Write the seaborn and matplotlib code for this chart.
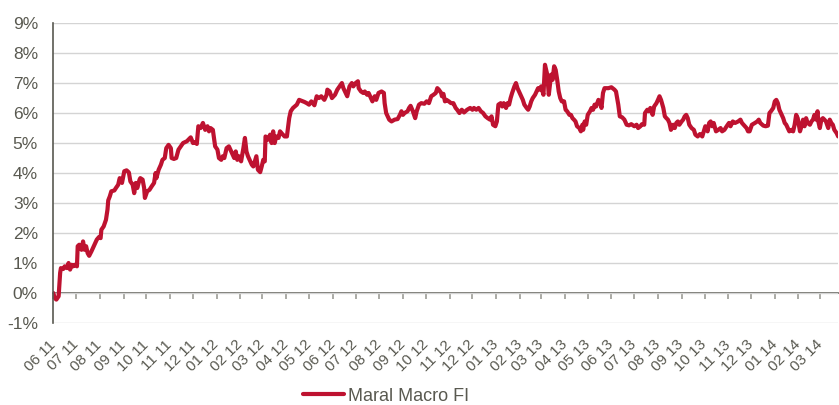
import matplotlib
matplotlib.use("Agg")
import matplotlib.pyplot as plt
import matplotlib.dates as mdates
import matplotlib.ticker as mticker
import seaborn as sns
import pandas as pd

# days since inception (2011-06-01) and cumulative return in %
start = "2011-06-01"
days = [0, 2, 4, 7, 9, 10, 13, 15, 18, 20, 22, 24, 26, 28, 31, 32, 34, 37, 39, 41,
        43, 45, 47, 50, 53, 57, 60, 62, 63, 66, 69, 71, 72, 74, 76, 80, 82, 85, 87, 90,
        93, 96, 99, 101, 104, 106, 108, 110, 113, 114, 117, 119, 120, 123, 126, 129, 132, 134, 135, 138,
        141, 143, 146, 148, 151, 154, 155, 158, 161, 164, 167, 170, 175,
        177, 180, 183, 186, 188, 190, 193, 196, 199, 202, 204, 206, 209, 212, 215, 217, 220, 222, 224,
        227, 230, 233, 235, 237, 239, 241, 243, 246, 249, 251, 253, 255, 258, 260, 262, 264, 266,
        268, 271, 273, 275, 277, 278, 281, 284, 286, 288, 290, 292, 295, 297, 300, 303, 306, 309,
        311, 314, 319, 322, 325, 329, 332, 335, 338, 342, 345, 348, 351, 355, 358,
        359, 362, 365, 369, 372, 375, 378, 380, 383, 385, 388, 391, 393, 396, 399, 400, 403, 406,
        408, 411, 413, 416, 418, 421, 423, 426, 430, 433, 434, 436, 440, 443, 447, 451, 454, 456,
        458, 460, 464, 466, 468, 471, 474, 476, 479, 482, 486, 489, 492, 495, 498, 501, 503, 505,
        508, 509, 511, 513, 515, 518, 521, 524, 527, 529, 532, 535, 538,
        542, 546, 549, 551, 554, 557, 560, 563, 566, 569, 572, 574, 576, 579, 581, 583, 586, 588,
        590, 593, 595, 597, 599, 601, 604, 606, 608, 610, 612, 615, 617, 620, 622, 624, 626, 628,
        631, 633, 635, 637, 639, 642, 644, 645, 647, 649, 652, 654, 656, 658, 660, 662, 664, 666,
        669, 671, 673, 676, 678, 680, 682, 684, 686, 689, 691, 693, 694, 696, 698, 700, 703, 705,
        707, 709, 711, 714, 716, 718, 720, 722,
        727, 731, 735, 737, 740, 742, 745, 748, 751, 754, 757, 761, 764, 766, 769, 771, 774, 775,
        778, 780, 782, 785, 787, 790, 792, 794, 796, 799, 801, 803, 805, 807, 809, 812, 814, 816,
        818, 820, 823, 825, 827, 829, 831, 833, 836, 839, 841, 844, 847, 850, 852, 854, 857, 859,
        861, 863, 865, 868, 871, 874, 876, 879, 882, 885, 887, 890, 893, 897, 900, 902, 906,
        908, 910, 912, 915, 919, 922, 924, 926, 930, 933, 936, 938, 940, 943, 945, 947, 949, 951,
        954, 956, 958, 960, 962, 964, 967, 969, 971, 973, 975, 978, 980, 982, 984, 986, 988, 991,
        993, 995, 997, 999, 1001, 1002, 1004, 1006, 1008, 1010, 1012, 1015, 1017, 1019, 1021, 1023,
        1026, 1028]
values = [0.00, -0.17, -0.22, -0.11, 0.67, 0.83, 0.80, 0.89, 0.83, 1.00, 0.78, 0.94, 0.89, 0.94, 0.89, 1.56, 1.61, 1.44, 1.72, 1.44,
          1.56, 1.33, 1.24, 1.39, 1.56, 1.78, 1.87, 1.83, 2.11, 2.22, 2.44, 2.78, 3.09, 3.22, 3.39, 3.42, 3.50, 3.61, 3.83, 3.67,
          4.06, 4.09, 4.02, 3.72, 3.61, 3.33, 3.67, 3.50, 3.78, 3.83, 3.78, 3.50, 3.17, 3.39, 3.44, 3.56, 3.67, 4.00, 3.83, 4.11,
          4.28, 4.44, 4.50, 4.83, 4.94, 4.83, 4.50, 4.47, 4.50, 4.78, 4.89, 5.00, 5.06,
          5.11, 5.19, 5.00, 5.03, 4.97, 5.56, 5.50, 5.67, 5.44, 5.56, 5.39, 5.50, 5.44, 4.89, 4.78, 4.50, 4.44, 4.56, 4.50,
          4.83, 4.89, 4.72, 4.61, 4.50, 4.72, 4.44, 4.56, 4.39, 4.83, 5.17, 4.72, 4.56, 4.39, 4.28, 4.22, 4.39, 4.56,
          4.11, 4.03, 4.22, 4.44, 4.39, 5.22, 5.11, 5.28, 5.00, 5.39, 5.00, 5.22, 5.17, 5.39, 5.30, 5.22, 5.22, 5.83,
          6.06, 6.17, 6.28, 6.44, 6.41, 6.37, 6.33, 6.28, 6.39, 6.26, 6.56, 6.50, 6.56, 6.44, 6.61,
          6.78, 6.72, 6.50, 6.61, 6.78, 6.89, 7.00, 6.83, 6.67, 6.56, 6.89, 7.00, 6.89, 7.00, 7.06, 6.83, 6.72, 6.67,
          6.72, 6.61, 6.67, 6.50, 6.39, 6.56, 6.44, 6.67, 6.72, 6.67, 6.33, 6.00, 5.78, 5.72, 5.78, 5.80, 5.94, 6.06,
          5.94, 6.00, 6.06, 6.17, 6.24, 6.06, 5.83, 6.06, 6.28, 6.33, 6.31, 6.39, 6.33, 6.56, 6.61, 6.67, 6.83, 6.78,
          6.67, 6.56, 6.64, 6.39, 6.44, 6.39, 6.33, 6.33, 6.17, 6.11, 6.00, 6.11, 6.02,
          6.11, 6.17, 6.11, 6.17, 6.11, 6.17, 6.06, 6.00, 5.89, 5.83, 5.78, 5.89, 5.61, 5.56, 5.72, 6.28, 6.33, 6.22,
          6.33, 6.17, 6.33, 6.28, 6.50, 6.67, 6.89, 7.00, 6.83, 6.72, 6.61, 6.44, 6.28, 6.17, 6.11, 6.22, 6.39, 6.50,
          6.61, 6.72, 6.83, 6.78, 6.89, 6.61, 7.61, 7.50, 7.28, 6.61, 7.28, 7.11, 7.56, 7.44, 7.11, 6.72, 6.50, 6.39,
          6.39, 6.11, 6.06, 5.94, 5.94, 5.83, 5.78, 5.72, 5.56, 5.50, 5.39, 5.61, 5.44, 5.72, 5.61, 5.94, 6.06, 6.17,
          6.11, 6.28, 6.22, 6.44, 6.39, 6.17, 6.67, 6.83,
          6.83, 6.86, 6.78, 6.72, 6.28, 5.89, 5.86, 5.78, 5.61, 5.59, 5.63, 5.56, 5.61, 5.50, 5.56, 5.63, 5.61, 6.00,
          6.11, 6.06, 6.17, 5.94, 6.22, 6.33, 6.44, 6.56, 6.44, 6.17, 5.89, 5.83, 5.78, 5.67, 5.44, 5.61, 5.50, 5.67,
          5.72, 5.61, 5.72, 5.78, 5.89, 5.94, 5.83, 5.61, 5.50, 5.44, 5.28, 5.22, 5.30, 5.22, 5.39, 5.56, 5.39, 5.67,
          5.72, 5.56, 5.67, 5.39, 5.44, 5.50, 5.39, 5.44, 5.56, 5.67, 5.56, 5.72, 5.67, 5.72, 5.78, 5.67, 5.56,
          5.50, 5.39, 5.39, 5.61, 5.67, 5.72, 5.78, 5.67, 5.58, 5.56, 5.58, 6.00, 6.06, 6.17, 6.39, 6.44, 6.33, 6.11,
          5.94, 5.83, 5.67, 5.61, 5.50, 5.39, 5.44, 5.39, 5.61, 5.94, 5.83, 5.39, 5.56, 5.78, 5.56, 5.83, 5.67, 5.61,
          5.72, 5.78, 5.94, 5.78, 6.06, 5.72, 5.50, 5.78, 5.83, 5.78, 5.72, 5.50, 5.78, 5.67, 5.61, 5.44,
          5.33, 5.22]
series_name = "Maral Macro FI"

df = pd.DataFrame({"date": pd.Timestamp(start) + pd.to_timedelta(days, unit="D"),
                   "value": values})

sns.set_theme(style="white")
plt.rcParams["font.family"] = ["Liberation Sans", "DejaVu Sans"]
plt.rcParams["axes.unicode_minus"] = False
txt = "#595950"
red = "#BE1230"

fig = plt.figure(figsize=(8.39, 4.05), dpi=100)
ax = fig.add_axes([0.0635, 0.2025, 0.9355, 0.7405])

sns.lineplot(data=df, x="date", y="value", ax=ax, color=red, linewidth=3.0,
             estimator=None, sort=False, label=series_name, legend=False)

ax.set_ylim(-1, 9)
ax.set_xlim(df["date"].iloc[0], df["date"].iloc[-1])
ax.yaxis.set_major_locator(mticker.MultipleLocator(1))
ax.yaxis.set_major_formatter(mticker.FuncFormatter(lambda v, p: "%d%%" % round(v)))
ax.grid(axis="y", color="#d4d4d4", linewidth=1)
ax.set_axisbelow(True)
ax.set_xlabel("")
ax.set_ylabel("")

for s in ["top", "right", "bottom"]:
    ax.spines[s].set_visible(False)
ax.spines["left"].set_color("#595950")
ax.spines["left"].set_linewidth(1.2)

ax.xaxis.set_major_locator(mdates.MonthLocator())
ax.xaxis.set_major_formatter(mdates.DateFormatter("%m %y"))
ax.tick_params(axis="x", length=0, pad=14, labelsize=11, labelcolor=txt)
ax.tick_params(axis="y", length=0, pad=11, labelsize=12.5, labelcolor=txt)
for lab in ax.get_xticklabels():
    lab.set_rotation(45)
    lab.set_ha("right")
    lab.set_va("center")
    lab.set_rotation_mode("anchor")

# zero line with month tick marks
sec = ax.secondary_xaxis(0.1)
sec.xaxis.set_major_locator(mdates.MonthLocator())
sec.tick_params(axis="x", length=4, direction="out", color="#a0a09a", labelbottom=False, labeltop=False)
sec.spines["bottom"].set_color("#595950")
sec.spines["bottom"].set_linewidth(1.2)

handles, labels = ax.get_legend_handles_labels()
fig.legend(handles, labels, loc="center", bbox_to_anchor=(0.46, 0.022), frameon=False,
           fontsize=13, handlelength=2.3, handletextpad=0.2, labelcolor=txt,
           borderpad=0)

fig.savefig("out.png", dpi=100)
